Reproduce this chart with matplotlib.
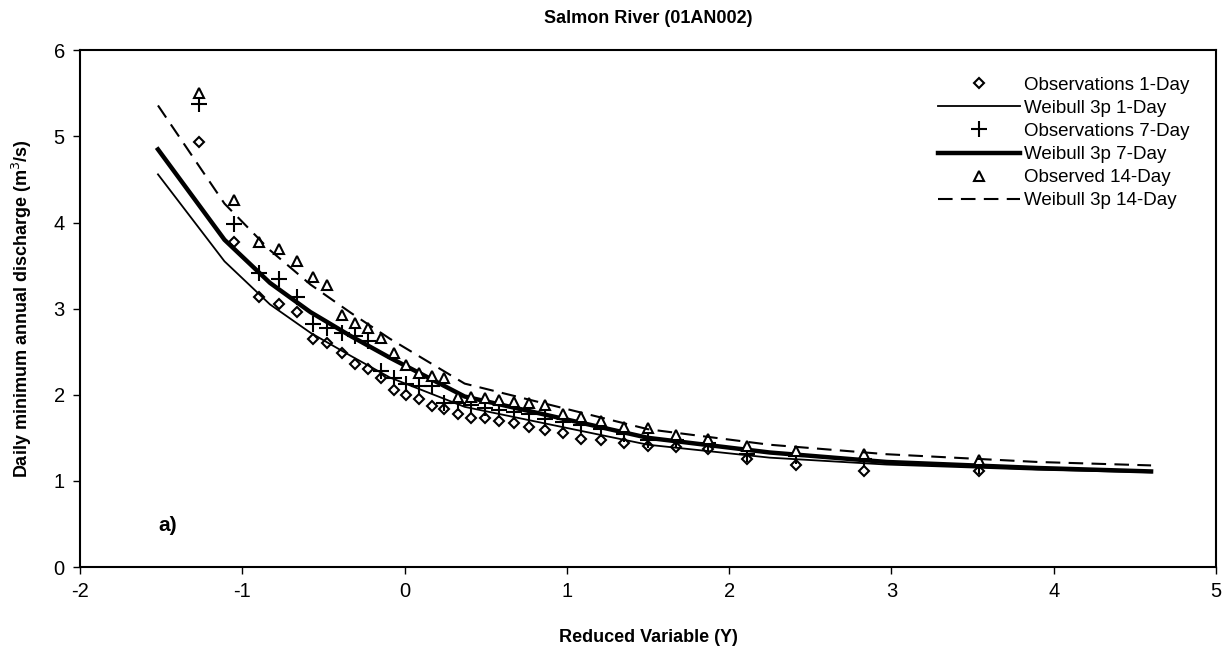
import matplotlib
matplotlib.use('Agg')
import matplotlib.pyplot as plt

plt.rcParams['font.family'] = ['Liberation Sans', 'DejaVu Sans']
plt.rcParams['axes.unicode_minus'] = False

# reduced variable of the 34 observations
obs_y = [-1.268, -1.052, -0.899, -0.774, -0.666, -0.567, -0.476, -0.389, -0.306,
         -0.225, -0.146, -0.068, 0.010, 0.087, 0.166, 0.245, 0.326, 0.408, 0.493,
         0.581, 0.672, 0.767, 0.868, 0.975, 1.089, 1.213, 1.349, 1.500, 1.671,
         1.870, 2.109, 2.412, 2.833, 3.541]

obs_1day = [4.93, 3.78, 3.14, 3.05, 2.96, 2.65, 2.60, 2.48, 2.36, 2.30, 2.19, 2.05,
            2.00, 1.95, 1.87, 1.84, 1.78, 1.73, 1.73, 1.70, 1.67, 1.63, 1.59, 1.56,
            1.49, 1.47, 1.44, 1.40, 1.39, 1.37, 1.26, 1.19, 1.12, 1.11]

obs_7day = [5.38, 3.98, 3.42, 3.34, 3.14, 2.82, 2.78, 2.72, 2.68, 2.62, 2.28, 2.20,
            2.13, 2.10, 2.10, 1.90, 1.90, 1.88, 1.85, 1.82, 1.80, 1.78, 1.72, 1.68,
            1.65, 1.60, 1.55, 1.48, 1.47, 1.44, 1.31, 1.29, 1.26, 1.17]

obs_14day = [5.50, 4.26, 3.78, 3.69, 3.55, 3.37, 3.28, 2.93, 2.83, 2.77, 2.66, 2.48,
             2.35, 2.25, 2.22, 2.20, 1.98, 1.97, 1.96, 1.94, 1.92, 1.91, 1.88, 1.78,
             1.74, 1.70, 1.63, 1.62, 1.53, 1.49, 1.40, 1.35, 1.31, 1.24]

# fitted Weibull 3p curves
fit_y = [-1.52, -1.11, -0.83, -0.58, -0.33, -0.09, 0.37, 1.50, 2.25, 2.97, 3.90, 4.60]
fit_1day = [4.56, 3.55, 3.05, 2.72, 2.45, 2.20, 1.86, 1.42, 1.27, 1.19, 1.13, 1.10]
fit_7day = [4.85, 3.80, 3.30, 2.96, 2.68, 2.43, 1.98, 1.50, 1.33, 1.22, 1.15, 1.11]
fit_14day = [5.36, 4.22, 3.68, 3.28, 2.95, 2.65, 2.13, 1.60, 1.42, 1.31, 1.22, 1.18]

fig = plt.figure(figsize=(12.32, 6.54), dpi=100)
ax = fig.add_axes([0.065, 0.133, 0.922, 0.79])

ax.plot(obs_y, obs_1day, linestyle='none', marker='D', markersize=5.5,
        markerfacecolor='white', markeredgecolor='black', markeredgewidth=1.5,
        label='Observations 1-Day')
ax.plot(fit_y, fit_1day, color='black', linewidth=1.3, label='Weibull 3p 1-Day')
ax.plot(obs_y, obs_7day, linestyle='none', marker='+', markersize=11,
        markeredgecolor='black', markeredgewidth=1.5, label='Observations 7-Day')
ax.plot(fit_y, fit_7day, color='black', linewidth=3.2, label='Weibull 3p 7-Day')
ax.plot(obs_y, obs_14day, linestyle='none', marker='^', markersize=7,
        markerfacecolor='white', markeredgecolor='black', markeredgewidth=1.5,
        label='Observed 14-Day')
ax.plot(fit_y, fit_14day, color='black', linewidth=1.5, dashes=(7, 4),
        label='Weibull 3p 14-Day')

ax.set_xlim(-2, 5)
ax.set_ylim(0, 6)
ax.set_xticks(range(-2, 6))
ax.set_yticks(range(0, 7))
ax.tick_params(direction='out', length=5, labelsize=14.5, width=1, pad=6)
for s in ax.spines.values():
    s.set_linewidth(1.5)

ax.set_xlabel('Reduced Variable (Y)', fontsize=13, fontweight='bold', labelpad=20)
ax.set_ylabel('Daily minimum annual discharge (m$^3$/s)', fontsize=13,
              fontweight='bold', labelpad=14)
ax.set_title('Salmon River (01AN002)', fontsize=13, fontweight='bold', pad=20)
ax.text(-1.52, 0.42, 'a)', fontsize=15, fontweight='bold')

ax.legend(loc='upper right', frameon=False, fontsize=13.5, handlelength=4.4,
          labelspacing=0.32, borderaxespad=1.0, handletextpad=0.2)

fig.savefig('out.png', dpi=100)
